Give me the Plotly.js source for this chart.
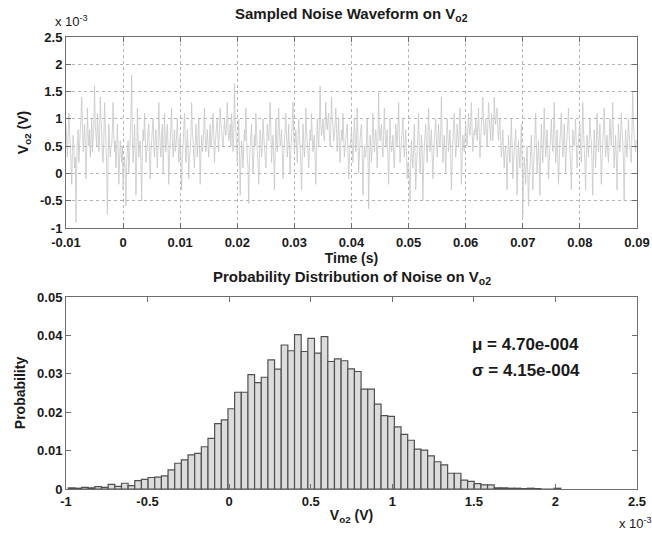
<!DOCTYPE html>
<html>
<head>
<meta charset="utf-8">
<script src="https://cdn.plot.ly/plotly-3.0.1.min.js"></script>
<style>html,body{margin:0;padding:0;background:#fff;}#chart{width:652px;height:533px;}</style>
</head>
<body>
<div id="chart"></div>
<script>
// ---- Waveform data (units of 1e-3 V), sampled every dtSample seconds from tStart ----
var tStart = -0.01;
var dtSample = 0.000125;
var noiseMilliVolts = [
 0.9,0.6,0.3,0.7,1.1,0.8,0.5,0.2,-0.2,0.4,0.7,0.5,0.1,0.3,-0.9,0.2,0.6,0.8,0.2,0.5,0.8,1.0,1.4,0.9,0.4,0.6,0.9,0.5,-0.1,0.4,1.2,0.7,0.5,0.8,0.3,0.6,1.0,0.4,0.6,0.9,
 1.6,0.9,0.7,0.5,1.1,0.8,0.4,0.6,1.4,1.0,0.8,0.3,0.2,0.6,1.3,0.9,0.6,0.1,-0.75,0.3,0.9,0.6,0.3,0.5,0.5,0.8,1.3,0.7,0.4,0.6,0.1,0.4,0.9,0.5,-0.2,0.2,0.6,0.4,0.2,0.5,
 -0.3,0.1,0.3,0.0,-0.6,0.2,0.4,0.6,0.0,0.3,0.7,1.0,1.8,0.6,0.2,0.5,0.9,0.4,-0.4,0.2,1.2,0.7,0.3,0.5,0.6,0.2,-0.5,0.4,0.8,0.6,1.1,0.7,0.2,0.4,0.5,0.8,0.9,0.3,-0.1,0.4,
 0.6,0.8,1.0,0.5,0.3,0.6,0.8,0.4,0.1,0.5,1.3,0.8,0.5,0.3,0.7,0.9,0.0,0.4,1.1,0.6,0.4,0.7,0.9,0.5,-0.2,0.3,0.6,0.9,1.2,0.6,0.3,0.5,0.8,0.4,0.5,0.7,1.0,0.6,0.2,0.5,
 0.7,0.2,-0.3,0.3,0.5,0.8,1.1,0.6,0.2,0.4,0.8,0.5,-0.1,0.3,0.4,0.7,1.3,0.8,0.6,0.3,0.1,0.5,0.9,0.6,0.3,0.7,1.0,0.5,-0.2,0.3,0.7,0.4,0.5,0.8,1.2,0.7,0.4,0.6,0.8,0.5,
 0.3,0.6,0.9,0.5,0.6,0.8,1.1,0.7,0.2,0.5,0.7,0.9,1.0,0.6,0.4,0.8,1.2,0.9,0.8,0.6,0.5,0.7,1.0,0.8,0.7,0.9,1.3,0.8,0.6,0.7,0.9,0.5,1.1,0.8,0.4,0.7,1.65,0.9,0.8,0.5,
 0.2,0.6,1.0,0.4,-0.4,0.2,0.6,0.4,0.1,0.5,0.8,0.6,1.2,0.7,0.3,0.1,-0.55,0.2,0.5,0.7,0.9,0.4,0.0,0.3,0.7,0.5,1.1,0.8,0.4,0.2,-0.2,0.3,0.8,0.6,0.3,0.5,1.0,0.7,0.5,0.3,
 0.1,0.4,0.9,0.7,0.6,0.9,1.3,0.8,0.2,0.5,0.7,0.4,-0.3,0.3,1.0,0.6,0.4,0.7,1.2,0.8,0.5,0.6,0.8,0.4,-0.1,0.3,0.6,0.8,1.1,0.7,0.3,0.5,0.9,0.4,0.0,0.4,0.7,0.9,1.3,0.7,
 0.4,0.6,0.8,0.5,0.2,0.6,1.0,0.7,0.5,0.2,-0.3,0.3,0.9,0.6,0.3,0.5,1.2,0.8,0.6,0.4,0.1,0.5,0.8,0.6,1.1,0.7,0.4,0.6,0.7,0.3,-0.2,0.4,1.0,0.7,0.5,0.9,1.6,0.9,0.7,0.8,
 1.0,0.7,0.6,0.9,1.3,0.9,0.8,1.0,1.1,0.7,0.5,0.8,1.4,1.0,0.9,0.6,0.7,0.9,1.2,0.8,0.4,0.7,1.0,0.6,0.2,0.5,0.8,0.6,1.1,0.7,0.3,0.5,0.6,0.8,0.9,0.4,-0.1,0.3,0.5,0.6,
 0.8,0.5,0.2,0.6,1.0,0.7,0.4,0.6,1.2,0.7,0.0,0.3,0.6,0.8,0.9,0.4,-0.4,0.2,0.5,0.3,0.3,0.6,1.0,0.5,-0.65,0.1,0.7,0.5,0.2,0.6,1.1,0.7,0.4,0.6,0.8,0.5,0.1,0.6,1.5,0.8,
 0.6,0.8,0.9,0.5,0.3,0.7,1.2,0.8,0.5,0.6,0.8,0.3,-0.2,0.4,1.0,0.6,0.4,0.5,0.7,0.3,0.1,0.5,0.9,0.7,0.5,0.8,1.3,0.7,0.2,0.4,0.6,0.8,1.0,0.6,0.3,0.5,0.8,0.4,-0.1,0.2,
 0.2,-0.1,-0.5,0.2,0.6,0.3,0.1,0.5,0.9,0.4,-0.3,0.1,0.4,0.7,1.1,0.5,0.0,0.3,0.7,0.4,-0.5,0.1,0.5,0.7,0.9,0.5,0.2,0.6,1.2,0.7,0.4,0.6,0.8,0.3,-0.1,0.3,0.6,0.8,1.0,0.6,
 0.3,0.6,0.9,0.6,0.5,0.8,1.4,0.7,0.2,0.5,0.7,0.4,0.0,0.5,1.0,0.7,0.4,0.6,0.8,0.4,-0.3,0.2,0.6,0.9,1.1,0.6,0.3,0.5,0.9,0.7,0.5,0.8,1.2,0.6,-0.2,0.3,0.7,0.5,0.4,0.7,
 0.9,0.6,0.5,0.8,1.1,0.8,0.7,0.9,1.3,0.8,0.4,0.6,0.8,0.7,1.0,0.8,0.6,0.9,1.2,0.7,0.3,0.6,0.9,1.1,1.4,0.9,0.7,0.8,1.0,0.7,0.5,0.9,1.3,1.0,0.8,0.6,1.1,0.9,0.6,0.8,
 1.4,1.0,0.9,1.1,1.2,0.8,0.6,0.9,1.0,0.6,0.3,0.5,0.8,0.4,0.1,0.4,0.5,0.2,-0.3,0.3,0.7,0.4,0.2,0.6,1.0,0.5,-0.1,0.2,0.4,0.6,0.8,0.3,-0.4,0.2,0.6,0.3,0.1,0.5,0.9,0.3,
 -0.8,-0.2,0.3,0.1,-0.2,0.2,0.5,0.0,-0.6,-0.1,0.1,0.4,0.7,0.2,-0.3,0.1,0.4,0.7,1.1,0.5,0.0,0.3,0.6,0.2,-0.4,0.3,0.9,0.5,0.2,0.6,1.2,0.7,0.3,0.5,0.8,0.4,-0.1,0.2,0.5,0.7,
 1.0,0.6,0.4,0.8,1.3,0.7,0.2,0.4,0.8,0.3,-0.2,0.2,0.6,0.8,1.1,0.6,0.3,0.5,0.9,0.5,0.0,0.4,0.7,0.9,1.2,0.7,0.4,0.2,-0.3,0.3,0.8,0.6,0.5,0.7,1.0,0.5,0.1,0.4,0.6,0.8,
 0.9,0.5,0.2,0.6,1.3,0.8,0.5,0.2,-0.3,0.3,0.7,0.5,0.3,0.6,1.0,0.7,0.6,0.2,-0.4,0.3,0.8,0.5,0.1,0.5,1.1,0.7,0.4,0.6,0.9,0.4,-0.2,0.2,0.6,0.8,1.2,0.7,0.3,0.5,0.7,0.4,
 0.2,0.6,1.0,0.7,0.5,0.9,1.3,0.6,0.1,0.4,0.7,0.3,-0.3,0.3,0.9,0.6,0.4,0.7,1.1,0.8,0.6,0.2,-0.5,0.3,0.8,0.5,0.3,0.6,1.0,0.7,0.5,0.3,0.2,0.8,1.5,0.9,0.7,0.5,0.4,0.6,
 0.6
];

// ---- Histogram data (bin centres in units of 1e-3 V) ----
var binStart = -0.966;
var binWidth = 0.0408;
var probability = [
 0.0003, 0.0002, 0.0004, 0.0003, 0.0006, 0.0004, 0.0012, 0.0007, 0.0015, 0.0009,
 0.0022, 0.0025, 0.0030, 0.0031, 0.0034, 0.0050, 0.0067, 0.0076, 0.0089, 0.0093,
 0.0110, 0.0132, 0.0170, 0.0180, 0.0209, 0.0252, 0.0252, 0.0298, 0.0277, 0.0291,
 0.0336, 0.0312, 0.0375, 0.0360, 0.0402, 0.0358, 0.0392, 0.0354, 0.0397, 0.0332,
 0.0339, 0.0334, 0.0313, 0.0306, 0.0260, 0.0260, 0.0221, 0.0191, 0.0189, 0.0162,
 0.0142, 0.0127, 0.0104, 0.0101, 0.0086, 0.0071, 0.0063, 0.0041, 0.0041, 0.0023,
 0.0020, 0.0014, 0.0011, 0.0011, 0.0003, 0.0003, 0.0002, 0.0002, 0.0001, 0.0002,
 0.0001, 0, 0, 0.0002
];

// ---- Tick labels ----
var wfTimeTicks = [-0.01, 0, 0.01, 0.02, 0.03, 0.04, 0.05, 0.06, 0.07, 0.08, 0.09];
var wfTimeLabels = ["-0.01", "0", "0.01", "0.02", "0.03", "0.04", "0.05", "0.06", "0.07", "0.08", "0.09"];
var wfVoltTicks = [-1, -0.5, 0, 0.5, 1, 1.5, 2, 2.5];
var wfVoltLabels = ["-1", "-0.5", "0", "0.5", "1", "1.5", "2", "2.5"];
var histVoltTicks = [-1, -0.5, 0, 0.5, 1, 1.5, 2, 2.5];
var histVoltLabels = ["-1", "-0.5", "0", "0.5", "1", "1.5", "2", "2.5"];
var histProbTicks = [0, 0.01, 0.02, 0.03, 0.04, 0.05];
var histProbLabels = ["0", "0.01", "0.02", "0.03", "0.04", "0.05"];

var statMu = "4.70e-004";
var statSigma = "4.15e-004";

var times = noiseMilliVolts.map(function (_, i) { return tStart + i * dtSample; });
var binCenters = probability.map(function (_, i) { return binStart + i * binWidth; });

var FONT = "Liberation Sans, Arial, sans-serif";
var TXT = "#1a1a1a";
var AX = "#6e6e6e";

var traces = [
  {
    type: "scatter", mode: "lines",
    x: times, y: noiseMilliVolts,
    xaxis: "x", yaxis: "y",
    line: { color: "#c6c6c6", width: 0.8, simplify: false },
    hoverinfo: "skip"
  },
  {
    type: "bar",
    x: binCenters, y: probability,
    width: binWidth,
    xaxis: "x2", yaxis: "y2",
    marker: { color: "#dcdcdc", line: { color: "#505050", width: 1.2 } },
    hoverinfo: "skip"
  }
];

function axisCommon() {
  return {
    showline: true, linecolor: AX, linewidth: 1, mirror: "ticks",
    ticks: "inside", ticklen: 5, tickcolor: AX, tickwidth: 1,
    zeroline: false,
    tickfont: { family: FONT, size: 13, color: TXT, weight: "bold" },
    tickmode: "array"
  };
}

var xa = axisCommon();
Object.assign(xa, {
  domain: [0, 1], anchor: "y", range: [-0.01, 0.09],
  tickvals: wfTimeTicks, ticktext: wfTimeLabels,
  ticklabelstandoff: 2,
  showgrid: true, gridcolor: "#b4b4b4", griddash: "dot", gridwidth: 1,
  title: { text: "Time (s)", font: { family: FONT, size: 14, color: TXT, weight: "bold" }, standoff: 0 }
});
var ya = axisCommon();
Object.assign(ya, {
  domain: [0.5774, 1], anchor: "x", range: [-1, 2.5],
  tickvals: wfVoltTicks, ticktext: wfVoltLabels,
  showgrid: true, gridcolor: "#b4b4b4", griddash: "dot", gridwidth: 1,
  title: { text: "V<sub>o2</sub> (V)", font: { family: FONT, size: 14, color: TXT, weight: "bold" }, standoff: 8 }
});
var xa2 = axisCommon();
Object.assign(xa2, {
  domain: [0, 1], anchor: "y2", range: [-1, 2.5],
  tickvals: histVoltTicks, ticktext: histVoltLabels,
  showgrid: false,
  title: { text: "V<sub>o2</sub> (V)", font: { family: FONT, size: 14, color: TXT, weight: "bold" }, standoff: 2 }
});
var ya2 = axisCommon();
Object.assign(ya2, {
  domain: [0, 0.4248], anchor: "x2", range: [0, 0.05],
  tickvals: histProbTicks, ticktext: histProbLabels,
  showgrid: false,
  title: { text: "Probability", font: { family: FONT, size: 14, color: TXT, weight: "bold" }, standoff: 8 }
});

var layout = {
  width: 652, height: 533,
  margin: { l: 66, r: 15, t: 37, b: 44 },
  paper_bgcolor: "#ffffff", plot_bgcolor: "#ffffff",
  showlegend: false,
  bargap: 0,
  font: { family: FONT, color: TXT },
  xaxis: xa, yaxis: ya, xaxis2: xa2, yaxis2: ya2,
  annotations: [
    { xref: "paper", yref: "paper", x: 0.5, y: 1.0487, text: "Sampled Noise Waveform on V<sub>o2</sub>",
      showarrow: false, xanchor: "center", yanchor: "middle",
      font: { family: FONT, size: 15, color: TXT, weight: "bold" } },
    { xref: "paper", yref: "paper", x: 0.5, y: 0.469, text: "Probability Distribution of Noise on V<sub>o2</sub>",
      showarrow: false, xanchor: "center", yanchor: "middle",
      font: { family: FONT, size: 15, color: TXT, weight: "bold" } },
    { xref: "paper", yref: "paper", x: -0.022, y: 1.035, text: "x 10<sup>-3</sup>",
      showarrow: false, xanchor: "left", yanchor: "middle",
      font: { family: FONT, size: 13, color: TXT } },
    { xref: "paper", yref: "paper", x: 1.03, y: -0.075, text: "x 10<sup>-3</sup>",
      showarrow: false, xanchor: "right", yanchor: "middle",
      font: { family: FONT, size: 13, color: TXT } },
    { xref: "paper", yref: "paper", x: 0.707, y: 0.3186, text: "\u03bc = " + statMu,
      showarrow: false, xanchor: "left", yanchor: "middle",
      font: { family: FONT, size: 17, color: TXT, weight: "bold" } },
    { xref: "paper", yref: "paper", x: 0.707, y: 0.263, text: "\u03c3 = " + statSigma,
      showarrow: false, xanchor: "left", yanchor: "middle",
      font: { family: FONT, size: 17, color: TXT, weight: "bold" } }
  ]
};

Plotly.newPlot("chart", traces, layout, { staticPlot: true, displayModeBar: false });
</script>
</body>
</html>
